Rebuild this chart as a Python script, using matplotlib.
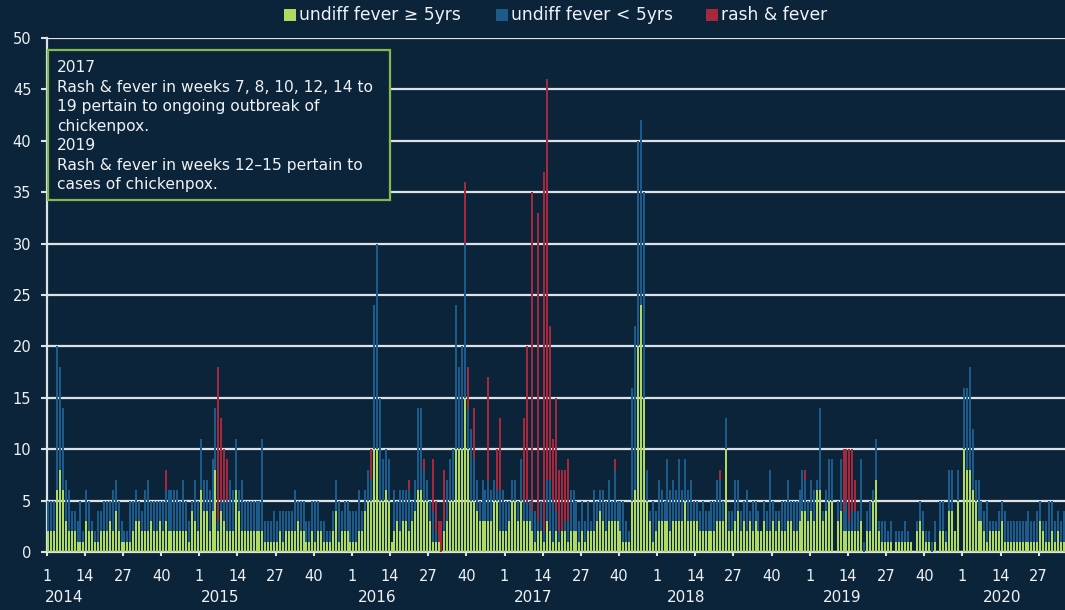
import matplotlib
matplotlib.use("Agg")
import matplotlib.pyplot as plt
from matplotlib.patches import Rectangle
import numpy as np

W, H = 1065, 610

# ---------------- data (weekly counts) ----------------
years = [2014, 2015, 2016, 2017, 2018, 2019, 2020]
tick_weeks = [1, 14, 27, 40]

green_2014 = [2,2,2,6,8,6,3,2,2,2, 1,1,1,3,2,2,1,1,2,2, 2,3,2,4,2,1,1,1,1,2,
              3,3,2,2,2,3,2,2,3,2, 3,2,2,2,2,2,2,2,1,4, 3,2]
blue_2014 = [3,3,3,14,10,8,4,4,2,2, 2,4,1,3,3,1,1,3,2,3, 3,2,4,3,3,2,1,1,4,3,
             3,2,2,4,5,2,3,3,2,3, 3,4,4,4,4,3,5,3,2,1, 4,3]
red_2014 = [0]*40 + [2] + [0]*11

green_2015 = [6,4,4,2,4,8,2,4,3,2, 2,2,6,4,2,2,2,2,2,2, 2,2,1,1,1,1,1,2,1,2,
              2,2,2,3,2,2,1,1,2,1, 2,2,1,1,1,2,4,1,2,2, 2,1]
blue_2015 = [5,3,3,4,5,6,1,1,2,3, 5,4,5,2,5,3,3,3,3,3, 3,9,2,2,2,3,2,2,3,2,
             2,2,4,2,3,3,2,2,3,4, 3,1,2,1,1,2,3,4,2,3, 3,3]
red_2015 = [0,0,0,0,0,0,15,8,5,4] + [0]*42

green_2016 = [1,1,2,2,4,5,5,10,10,5, 5,6,5,1,2,3,2,3,3,2, 3,4,6,6,5,5,3,1,1,1,
              0,2,3,5,5,10,10,10,15,10, 5,5,4,3,3,3,3,3,5,5, 2,2]
blue_2016 = [3,3,4,2,2,3,2,14,20,10, 4,4,4,0,4,2,4,3,3,4, 2,3,8,8,3,2,2,3,1,0,
             0,1,4,4,5,14,8,10,15,4, 7,4,3,2,4,3,4,3,2,1, 4,4]
red_2016 = [0,0,0,0,0,0,3,0,0,0, 0,0,0,0,0,0,0,0,0,1, 0,0,0,0,1,0,0,5,3,2,
            3,5,0,0,0,0,0,0,6,4, 0,5,0,0,0,0,10,0,0,4, 7,0]

green_2017 = [2,3,5,5,3,5,3,3,3,2, 1,2,2,1,3,2,1,2,1,2, 2,1,2,2,2,1,2,1,2,2,
              2,3,4,3,2,3,3,3,3,2, 1,1,1,5,6,20,24,15,5,3, 1,2]
blue_2017 = [3,2,2,2,2,4,2,2,2,2, 3,1,3,1,4,5,4,2,1,0, 1,2,4,4,3,2,3,2,3,1,
             4,2,2,3,3,4,2,5,2,3, 4,2,1,11,16,20,18,20,3,1, 4,2]
red_2017 = [0,0,0,0,0,0,8,15,0,31, 0,30,0,35,39,15,6,11,6,6, 5,6,0,0,0,0,0,0,0,0,
            0,0,0,0,0,0,0,1,0,0, 0,0,0,0,0,0,0,0,0,0, 0,0]

green_2018 = [3,3,3,3,2,3,3,3,3,5, 3,3,3,3,2,2,2,2,2,2, 3,3,3,10,2,2,3,4,2,3,
              2,3,2,3,2,2,3,2,2,3, 2,3,2,2,3,3,2,2,3,4, 4,3]
blue_2018 = [4,3,2,6,4,4,3,6,3,4, 3,4,2,2,2,3,2,2,3,3, 4,4,2,3,2,2,4,3,2,2,
             4,1,3,2,2,0,2,2,6,2, 2,1,3,3,4,2,3,3,3,4, 3,2]
red_2018 = [0]*21 + [1] + [0]*28 + [1, 0]

green_2019 = [4,3,6,6,3,4,5,5,0,3, 4,2,2,2,2,2,2,3,0,2, 2,5,7,2,1,1,1,1,0,1,
              1,1,1,1,1,0,2,3,2,1, 1,0,1,0,2,2,1,4,4,2, 5,0]
blue_2019 = [3,3,1,8,1,2,4,4,0,2, 5,2,3,1,2,2,2,6,1,2, 3,1,4,1,2,2,1,2,0,1,
             1,1,2,1,0,0,1,2,2,1, 1,1,2,0,3,3,1,4,4,0, 3,0]
red_2019 = [0]*11 + [6,5,7,6,3] + [0]*36

green_2020 = [10,8,8,6,5,3,3,2,1,2, 2,2,2,3,1,1,1,1,1,1, 1,1,1,1,1,1,3,2,1,1,
              2,1,2,1,1,1]
blue_2020 = [6,8,10,6,2,4,2,2,4,1, 1,1,2,2,3,2,2,2,2,2, 2,2,3,2,2,3,2,1,2,4,
             3,2,2,2,3,2]
red_2020 = [0]*36

series_names = ["undiff fever \u2265 5yrs", "undiff fever < 5yrs", "rash & fever"]

green = np.array(green_2014 + green_2015 + green_2016 + green_2017 + green_2018 + green_2019 + green_2020, float)
blue = np.array(blue_2014 + blue_2015 + blue_2016 + blue_2017 + blue_2018 + blue_2019 + blue_2020, float)
red = np.array(red_2014 + red_2015 + red_2016 + red_2017 + red_2018 + red_2019 + red_2020, float)
n = len(green)

# ---------------- style ----------------
BG = "#0c243a"
C_GREEN = "#afd960"
C_BLUE = "#1c5b8a"
C_RED = "#a6283d"
GRID = "#dde2e6"
TXT = "#eef2f5"
BOX = "#86b84e"

fig = plt.figure(figsize=(W / 100, H / 100), dpi=100, facecolor=BG)
x0_px, y0_px, ytop_px = 46.7, 552, 38
cell_px = 2.935
ax = fig.add_axes([x0_px / W, (H - y0_px) / H, 1 - x0_px / W, (y0_px - ytop_px) / H])
ax.set_facecolor(BG)

x = np.arange(n)
bw = 0.68
ax.bar(x, green, width=bw, color=C_GREEN, linewidth=0, zorder=3)
ax.bar(x, blue, width=bw, bottom=green, color=C_BLUE, linewidth=0, zorder=3)
ax.bar(x, red, width=bw, bottom=green + blue, color=C_RED, linewidth=0, zorder=3)

ax.set_ylim(0, 50)
ax.set_xlim(-0.5, -0.5 + (W - x0_px) / cell_px)
ax.set_yticks(range(0, 51, 5))
ax.yaxis.grid(True, color=GRID, linewidth=1.6, zorder=0)
ax.set_axisbelow(True)

for s in ["top", "right"]:
    ax.spines[s].set_visible(False)
for s in ["left", "bottom"]:
    ax.spines[s].set_color(GRID)
    ax.spines[s].set_linewidth(1.6)

tick_pos, tick_lab = [], []
for yi, yr in enumerate(years):
    for w in tick_weeks:
        p = yi * 52 + (w - 1) - 0.5
        if p < n:
            tick_pos.append(p)
            tick_lab.append(str(w))
ax.set_xticks(tick_pos)
ax.set_xticklabels(tick_lab)
ax.tick_params(axis="x", colors=GRID, labelcolor=TXT, length=3, width=1.5, labelsize=10.5, pad=9)
ax.tick_params(axis="y", colors=GRID, labelcolor=TXT, length=4, width=1.5, labelsize=10.5, pad=7)

# year labels
year_px = [64, 220.5, 377, 533.5, 686.5, 842.5, 1002.5]
for yr, px in zip(years, year_px):
    fig.text(px / W, (H - 598) / H, str(yr), color=TXT, fontsize=11, ha="center", va="center")

# legend
leg_colors = [C_GREEN, C_BLUE, C_RED]
leg_sq_px = [284, 496, 706]
for name, col, px in zip(series_names, leg_colors, leg_sq_px):
    fig.patches.append(Rectangle((px / W, (H - 21) / H), 12 / W, 12 / H,
                                 transform=fig.transFigure, facecolor=col, edgecolor="none"))
    fig.text((px + 15) / W, (H - 15) / H, name, color=TXT, fontsize=12.3, ha="left", va="center")

# annotation box
box = Rectangle((48 / W, (H - 200) / H), 342 / W, 150 / H, transform=fig.transFigure,
                facecolor=BG, edgecolor=BOX, linewidth=1.6, zorder=5)
fig.patches.append(box)
note_lines = ["2017",
              "Rash & fever in weeks 7, 8, 10, 12, 14 to",
              "19 pertain to ongoing outbreak of",
              "chickenpox.",
              "2019",
              "Rash & fever in weeks 12\u201315 pertain to",
              "cases of chickenpox."]
for k, line in enumerate(note_lines):
    fig.text(57 / W, (H - (68 + 19.5 * k)) / H, line, color=TXT, fontsize=11.2,
             ha="left", va="center", zorder=6)

fig.savefig("out.png", dpi=100, facecolor=BG)
